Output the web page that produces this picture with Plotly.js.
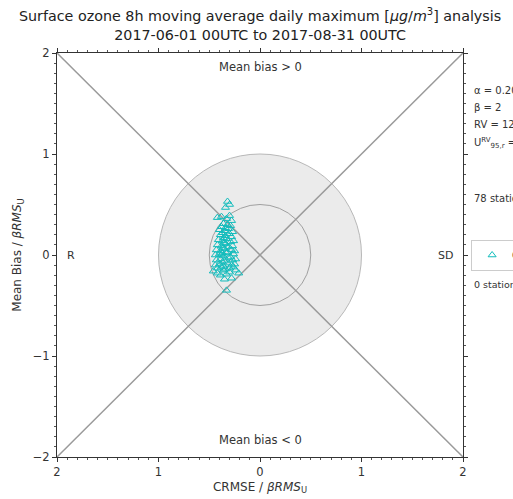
<!DOCTYPE html>
<html>
<head>
<meta charset="utf-8">
<script src="https://cdn.plot.ly/plotly-3.0.1.min.js"></script>
<style>html,body{margin:0;padding:0;background:#fff;}#chart{width:513px;height:499px;}</style>
</head>
<body>
<div id="chart"></div>
<script>
// Station points: CRMSE/βRMS_U (signed, R side negative) and Mean Bias/βRMS_U
const crmse = [
-0.32,-0.30,-0.34,
-0.42,-0.38,-0.33,-0.30,-0.28,
-0.36,-0.32,-0.29,-0.38,-0.34,
-0.40,-0.35,-0.31,-0.27,-0.37,
-0.39,-0.34,-0.30,-0.36,-0.28,
-0.41,-0.37,-0.33,-0.29,-0.35,-0.26,
-0.42,-0.38,-0.34,-0.31,-0.36,-0.27,
-0.43,-0.39,-0.35,-0.32,-0.28,-0.37,-0.25,
-0.44,-0.40,-0.36,-0.33,-0.29,-0.38,-0.26,
-0.43,-0.39,-0.35,-0.31,-0.27,-0.37,-0.24,
-0.44,-0.40,-0.36,-0.32,-0.28,-0.25,
-0.42,-0.38,-0.34,-0.30,-0.26,
-0.46,-0.42,-0.36,-0.30,-0.24,-0.21,-0.39,-0.33,
-0.35,-0.28,
-0.33
];
const meanBias = [
0.53,0.50,0.47,
0.37,0.38,0.36,0.39,0.34,
0.31,0.30,0.29,0.28,0.27,
0.25,0.24,0.26,0.23,0.22,
0.20,0.19,0.21,0.17,0.18,
0.15,0.14,0.16,0.13,0.12,0.14,
0.10,0.09,0.11,0.08,0.07,0.09,
0.05,0.04,0.06,0.03,0.05,0.02,0.04,
0.00,0.01,-0.01,0.02,-0.02,0.00,0.01,
-0.05,-0.04,-0.06,-0.03,-0.05,-0.07,-0.04,
-0.10,-0.09,-0.11,-0.08,-0.10,-0.09,
-0.13,-0.12,-0.14,-0.13,-0.12,
-0.16,-0.18,-0.15,-0.17,-0.15,-0.18,-0.20,-0.19,
-0.24,-0.23,
-0.35
];
const tickVals = [-2,-1,0,1,2];
const xTickText = ['2','1','0','1','2'];
const circleRadii = [1, 0.5];
const infoLines = ['α = 0.20','β = 2','RV = 120','U<sup>RV</sup><sub>95,r</sub> = 0.24'];
const seriesName = 'CAMS';
const nStationsText = '78 stations';
const outsideText = '0 stations outside';

const font = 'DejaVu Sans, sans-serif';
const trace = {
  x: crmse, y: meanBias, type: 'scatter', mode: 'markers', name: seriesName,
  marker: {symbol: 'triangle-up-open', size: 7, color: '#12bcbc', line: {width: 1}},
  cliponaxis: false
};

const shapes = [
  {type:'circle', xref:'x', yref:'y', x0:-circleRadii[0], x1:circleRadii[0], y0:-circleRadii[0], y1:circleRadii[0],
   fillcolor:'#ebebeb', line:{color:'#b8b8b8', width:1}, layer:'below'},
  {type:'circle', xref:'x', yref:'y', x0:-circleRadii[1], x1:circleRadii[1], y0:-circleRadii[1], y1:circleRadii[1],
   fillcolor:'rgba(0,0,0,0)', line:{color:'#a0a0a0', width:1}, layer:'below'},
  {type:'line', xref:'x', yref:'y', x0:-2, y0:-2, x1:2, y1:2, line:{color:'#9a9a9a', width:1.5}, layer:'below'},
  {type:'line', xref:'x', yref:'y', x0:-2, y0:2, x1:2, y1:-2, line:{color:'#9a9a9a', width:1.5}, layer:'below'}
];

const infoY = [0.908, 0.864, 0.822, 0.777];
const annotations = [
  {text:'Mean bias > 0', xref:'x', yref:'paper', x:0, y:0.965, xanchor:'center', yanchor:'middle', showarrow:false, font:{size:11.5, color:'#333', family:font}},
  {text:'Mean bias < 0', xref:'x', yref:'paper', x:0, y:0.042, xanchor:'center', yanchor:'middle', showarrow:false, font:{size:11.5, color:'#333', family:font}},
  {text:'R', xref:'paper', yref:'y', x:0.034, y:0, xanchor:'center', yanchor:'middle', showarrow:false, font:{size:11, color:'#333', family:font}},
  {text:'SD', xref:'paper', yref:'y', x:0.957, y:0, xanchor:'center', yanchor:'middle', showarrow:false, font:{size:11, color:'#333', family:font}},
  {text: nStationsText, xref:'paper', yref:'paper', x:1.022, y:0.639, xanchor:'left', yanchor:'middle', showarrow:false, font:{size:10, color:'#333', family:font}},
  {text: outsideText, xref:'paper', yref:'paper', x:1.022, y:0.428, xanchor:'left', yanchor:'middle', showarrow:false, font:{size:9.5, color:'#333', family:font}}
];
infoLines.forEach((t,i)=>annotations.push({text:t, xref:'paper', yref:'paper', x:1.022, y:infoY[i], xanchor:'left', yanchor:'middle', showarrow:false, font:{size:10, color:'#333', family:font}}));

const axisCommon = {
  range:[-2,2], tickvals: tickVals, ticks:'outside', ticklen:4, tickwidth:1, tickcolor:'#333',
  showline:true, linecolor:'#333', linewidth:1, mirror:'allticks', showgrid:false, zeroline:false,
  tickfont:{size:11.5, color:'#333', family:font},
  minor:{dtick:0.1, ticks:'outside', ticklen:2, tickcolor:'#555', showgrid:false}
};

const layout = {
  width:513, height:499,
  margin:{l:57, r:50, t:53, b:42, autoexpand:false},
  paper_bgcolor:'#fff', plot_bgcolor:'#fff',
  font:{family:font, color:'#333'},
  title:{text:'Surface ozone 8h moving average daily maximum [<i>μg</i>/<i>m</i><sup>3</sup>] analysis<br>2017-06-01 00UTC to 2017-08-31 00UTC',
         x:0.507, xanchor:'center', xref:'container', yref:'container', y:0.957, yanchor:'middle', font:{size:14.3, color:'#222', family:font}},
  xaxis:Object.assign({}, axisCommon, {ticktext:xTickText, automargin:false, title:{text:'CRMSE / <i>βRMS</i><sub>U</sub>', font:{size:12, color:'#333', family:font}, standoff:4}}),
  yaxis:Object.assign({}, axisCommon, {automargin:false, title:{text:'Mean Bias / <i>βRMS</i><sub>U</sub>', font:{size:12, color:'#333', family:font}, standoff:8}}),
  showlegend:true,
  legend:{x:1.02, y:0.5, xanchor:'left', yanchor:'middle', bordercolor:'#ccc', borderwidth:1, bgcolor:'#fff',
          font:{size:10, color:'#333', family:font}},
  shapes: shapes,
  annotations: annotations
};

Plotly.newPlot('chart', [trace], layout, {displayModeBar:false, staticPlot:true});
</script>
</body>
</html>
